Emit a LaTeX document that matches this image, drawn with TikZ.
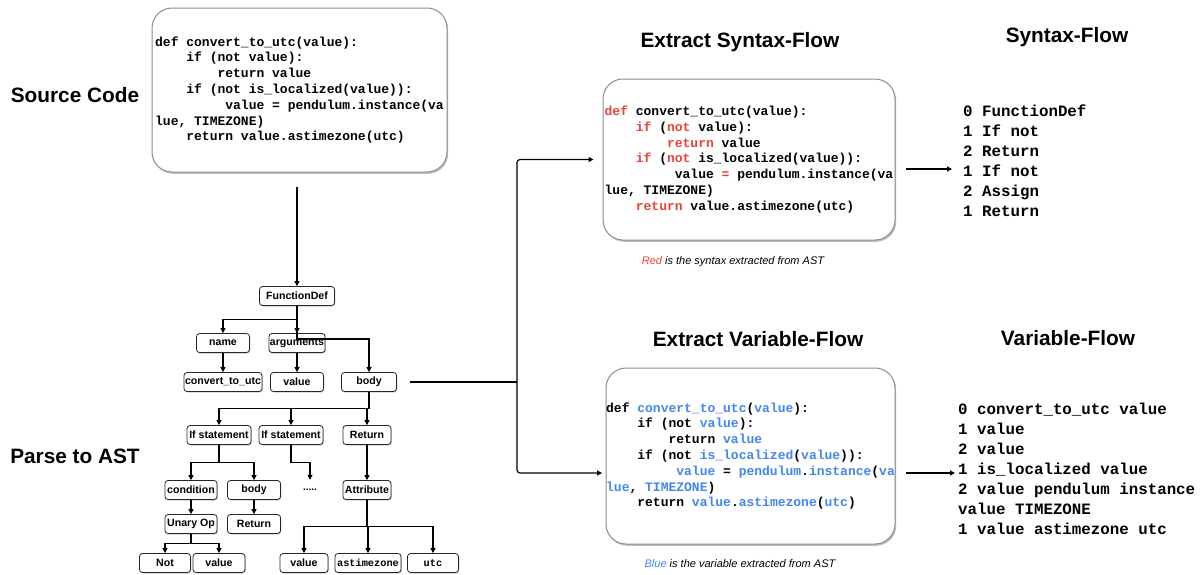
\documentclass[tikz,border=0pt]{standalone}
\usepackage{fontspec}
\setmainfont{Liberation Sans}
\setmonofont{Liberation Mono}
\usetikzlibrary{calc,arrows.meta,shadows}
\definecolor{synred}{RGB}{234,67,53}
\definecolor{varblue}{RGB}{66,135,240}
\newcommand{\codegap}[1]{\hspace*{#1\dimexpr0.6em\relax}}
\newcommand{\rd}[1]{\textcolor{synred}{#1}}
\newcommand{\bl}[1]{\textcolor{varblue}{#1}}
\tikzset{
	codebox/.style={draw=black!45, line width=1pt, rounded corners=20pt, fill=white,
		drop shadow={shadow xshift=1.2pt, shadow yshift=-1.8pt, opacity=0.5},
		align=left, inner sep=0pt, font=\ttfamily\bfseries\fontsize{13}{15.8}\selectfont},
	astnode/.style={draw=black!85, line width=0.8pt, rounded corners=3pt, fill=white,
		drop shadow={shadow xshift=0.8pt, shadow yshift=-1pt, opacity=0.4},
		minimum height=19pt, inner xsep=1pt, inner ysep=0pt, font=\bfseries\fontsize{10.6}{12}\selectfont},
	mono/.style={font=\ttfamily\bfseries\fontsize{10.3}{12}\selectfont},
	heading/.style={font=\bfseries\fontsize{20.8}{24}\selectfont},
	flowlist/.style={align=left, inner sep=0pt, anchor=west, font=\ttfamily\bfseries\fontsize{15.8}{20}\selectfont},
	caption/.style={font=\itshape\fontsize{11}{13}\selectfont},
	arr/.style={-{Triangle[length=5pt,width=5pt]}, line width=1.2pt},
	fork/.style={to path={(\tikztostart) |- ($(\tikztostart)!0.5!(\tikztotarget)$) -| (\tikztotarget)}}
}

\begin{document}
\begin{tikzpicture}[x=1pt, y=-1pt]
	%%%%% PAGE %%%%%
	\fill[white] (0,0) rectangle (1203,574);
	\useasboundingbox (0,0) rectangle (1203,574);
	
	%%%%% LABELS %%%%%
	\node[heading] (srclabel) at (75,95) {Source Code};
	\node[heading] (astlabel) at (75,456) {Parse to AST};
	\node[heading] (synlabel) at (740,42) {Extract Syntax-Flow};
	\node[heading] (synout) at (1067,37) {Syntax-Flow};
	\node[heading] (varlabel) at (758,339) {Extract Variable-Flow};
	\node[heading] (varout) at (1068,338) {Variable-Flow};
	
	%%%%% SOURCE %%%%%
	\node[codebox, minimum width=295, minimum height=164] (src) at (299.5,90) {%
		def convert\_to\_utc(value):\\
		\codegap{4}if (not value):\\
		\codegap{8}return value\\
		\codegap{4}if (not is\_localized(value)):\\
		\codegap{9}value = pendulum.instance(va\\
		lue, TIMEZONE)\\
		\codegap{4}return value.astimezone(utc)};
	
	%%%%% SYNTAX %%%%%
	\node[codebox, minimum width=292, minimum height=161] (syn) at (749,159.5) {%
		\rd{def} convert\_to\_utc(value):\\
		\codegap{4}\rd{if} (\rd{not} value):\\
		\codegap{8}\rd{return} value\\
		\codegap{4}\rd{if} (\rd{not} is\_localized(value)):\\
		\codegap{9}value \rd{=} pendulum.instance(va\\
		lue, TIMEZONE)\\
		\codegap{4}\rd{return} value.astimezone(utc)};
	\node[caption] (syncap) at (733,262) {\textcolor{synred}{Red} is the syntax extracted from AST};
	
	\node[flowlist] (synlist) at (963,161) {%
		0 FunctionDef\\
		1 If not\\
		2 Return\\
		1 If not\\
		2 Assign\\
		1 Return};
	
	%%%%% VARIABLE %%%%%
	\node[codebox, minimum width=289, minimum height=176] (var) at (750.5,456) {%
		def \bl{convert\_to\_utc}(\bl{value}):\\
		\codegap{4}if (not \bl{value}):\\
		\codegap{8}return \bl{value}\\
		\codegap{4}if (not \bl{is\_localized}(\bl{value})):\\
		\codegap{9}\bl{value} = \bl{pendulum}.\bl{instance}(\bl{va}\\
		\bl{lue}, \bl{TIMEZONE})\\
		\codegap{4}return \bl{value}.\bl{astimezone}(\bl{utc})};
	\node[caption] (varcap) at (740,564) {\textcolor{varblue}{Blue} is the variable extracted from AST};
	
	\node[flowlist] (varlist) at (958,469) {%
		0 convert\_to\_utc value\\
		1 value\\
		2 value\\
		1 is\_localized value\\
		2 value pendulum instance\\
		value TIMEZONE\\
		1 value astimezone utc};
	
	%%%%% AST %%%%%
	\node[astnode, minimum width=75] (fdef) at (297,296) {FunctionDef};
	\node[astnode, minimum width=53] (name) at (223,343) {name};
	\node[astnode, minimum width=55] (args) at (297,343) {arguments};
	\node[astnode, minimum width=73] (fname) at (223,382) {convert\_to\_utc};
	\node[astnode, minimum width=53] (argval) at (297,382) {value};
	\node[astnode, minimum width=55] (body) at (369,382) {body};
	
	\node[astnode, minimum width=64] (ifa) at (219,435) {If statement};
	\node[astnode, minimum width=64] (ifb) at (291,435) {If statement};
	\node[astnode, minimum width=48] (ret) at (367,435) {Return};
	
	\node[astnode, minimum width=52] (cond) at (191,490) {condition};
	\node[astnode, minimum width=53] (ifbody) at (254,490) {body};
	\node[minimum height=20pt, inner sep=0pt, font=\bfseries\fontsize{10}{12}\selectfont] (more) at (310,490) {.....};
	\node[astnode, minimum width=48] (attr) at (367,490) {Attribute};
	
	\node[astnode, minimum width=52] (unary) at (191,524) {Unary Op};
	\node[astnode, minimum width=53] (ifret) at (254,524) {Return};
	
	\node[astnode, minimum width=51] (opnot) at (165,563) {Not};
	\node[astnode, minimum width=52] (opval) at (219,563) {value};
	\node[astnode, minimum width=48] (attrval) at (304,563) {value};
	\node[astnode, mono, minimum width=66] (attrname) at (368,563) {astimezone};
	\node[astnode, mono, minimum width=51] (attrutc) at (433,563) {utc};
	
	\foreach \a/\b in {fdef/name, fdef/args, fdef/body, name/fname, args/argval,
		body/ifa, body/ifb, body/ret, ifa/cond, ifa/ifbody, ifb/more, ret/attr,
		cond/unary, ifbody/ifret, unary/opnot, unary/opval,
		attr/attrval, attr/attrname, attr/attrutc}
		\draw[arr] (\a.south) to[fork] (\b.north);
	
	%%%%% CONNECTORS %%%%%
	\draw[arr, shorten <=14pt] (src.south -| fdef.north) -- (fdef.north);
	
	\coordinate (split) at (517,382);
	\coordinate (varin) at (602,473);
	\draw[line width=1.8pt, shorten <=13pt] (body.east) -- (split);
	\draw[arr, rounded corners=3pt, shorten >=9pt] (split) |- (syn.west);
	\draw[arr, rounded corners=3pt] (split) |- (varin);
	
	\coordinate (synin) at (952,169);
	\coordinate (varto) at (955,473);
	\draw[arr, shorten <=10pt] (syn.east |- synin) -- (synin);
	\draw[arr, shorten <=10pt] (var.east |- varto) -- (varto);
\end{tikzpicture}
\end{document}
